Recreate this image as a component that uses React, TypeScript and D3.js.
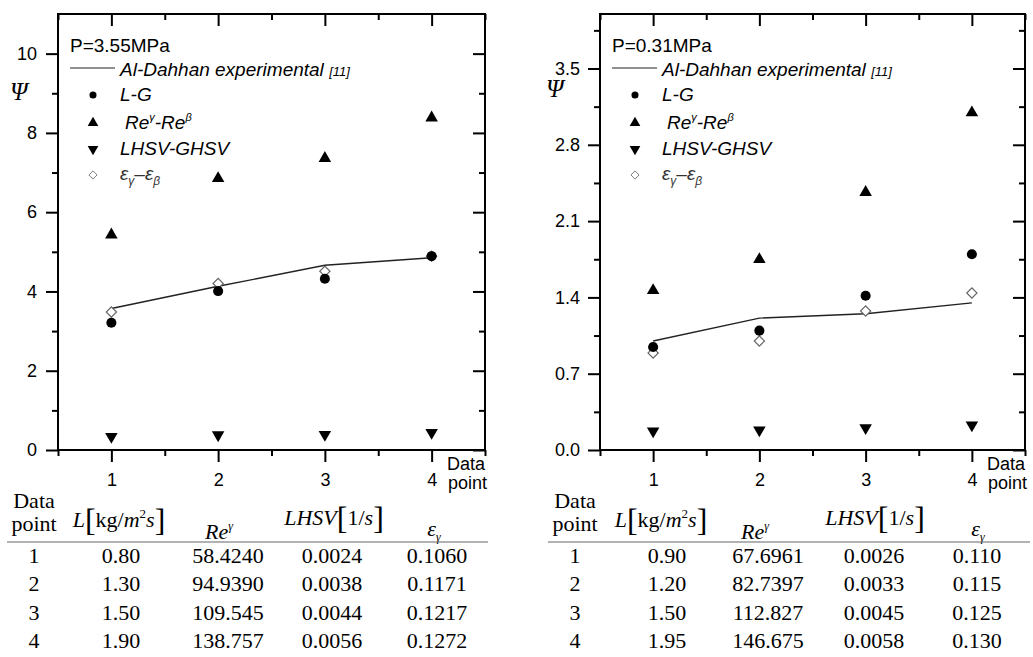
import * as d3 from 'd3'
import { useEffect, useRef } from 'react'

const dataPoints = [1, 2, 3, 4]

// P=3.55MPa panel
const expHigh = [3.57, 4.13, 4.66, 4.85]
const lgHigh = [3.21, 4.01, 4.32, 4.89]
const reHigh = [5.43, 6.85, 7.36, 8.38]
const lhsvHigh = [0.34, 0.38, 0.39, 0.44]
const epsHigh = [3.48, 4.2, 4.51, 4.89]

// P=0.31MPa panel
const expLow = [1.0, 1.21, 1.25, 1.35]
const lgLow = [0.945, 1.095, 1.415, 1.796]
const reLow = [1.464, 1.748, 2.364, 3.095]
const lhsvLow = [0.174, 0.183, 0.204, 0.229]
const epsLow = [0.89, 1.0, 1.275, 1.44]

const yTicksHigh = [0, 2, 4, 6, 8, 10]
const yMinorHigh = [1, 3, 5, 7, 9]
const yTicksLow = [0, 0.7, 1.4, 2.1, 2.8, 3.5]
const yMinorLow = [0.35, 1.05, 1.75, 2.45, 3.15, 3.85]
const xMinor = [0.5, 1.5, 2.5, 3.5, 4.5]

// tables under the plots
const tblLHigh = ['0.80', '1.30', '1.50', '1.90']
const tblReHigh = ['58.4240', '94.9390', '109.545', '138.757']
const tblLhsvHigh = ['0.0024', '0.0038', '0.0044', '0.0056']
const tblEpsHigh = ['0.1060', '0.1171', '0.1217', '0.1272']
const tblLLow = ['0.90', '1.20', '1.50', '1.95']
const tblReLow = ['67.6961', '82.7397', '112.827', '146.675']
const tblLhsvLow = ['0.0026', '0.0033', '0.0045', '0.0058']
const tblEpsLow = ['0.110', '0.115', '0.125', '0.130']

const sans = "'Liberation Sans', Arial, sans-serif"
const serif = "'Liberation Serif', 'Times New Roman', serif"

const circlePath = d3.symbol().type(d3.symbolCircle).size(80)()
const triPath = d3.symbol().type(d3.symbolTriangle).size(68)()
const diamondPath = d3.symbol().type(d3.symbolSquare).size(52)()

const panels = [
  {
    key: 'high', left: 58, right: 485, top: 14, bottom: 450, yMax: 11,
    yTicks: yTicksHigh, yMinor: yMinorHigh, fmt: d3.format('d'), pad: 9,
    pressure: 'P=3.55MPa', psi: [10, 100],
    exp: expHigh, lg: lgHigh, re: reHigh, lhsv: lhsvHigh, eps: epsHigh,
    table: { L: tblLHigh, Re: tblReHigh, LHSV: tblLhsvHigh, eps: tblEpsHigh },
    rule: [7, 488],
    cols: [34, 121, 228, 332, 437],
    heads: [119, 219, 334, 434],
  },
  {
    key: 'low', left: 600, right: 1025, top: 14, bottom: 450, yMax: 4,
    yTicks: yTicksLow, yMinor: yMinorLow, fmt: d3.format('.1f'), pad: 8,
    pressure: 'P=0.31MPa', psi: [546, 97],
    exp: expLow, lg: lgLow, re: reLow, lhsv: lhsvLow, eps: epsLow,
    table: { L: tblLLow, Re: tblReLow, LHSV: tblLhsvLow, eps: tblEpsLow },
    rule: [548, 1030],
    cols: [575, 667, 768, 874, 977],
    heads: [661, 755, 875, 978],
  },
]

const Panel = ({ p }) => {
  const axRef = useRef(null)
  const x = d3.scaleLinear().domain([0.5, 4.5]).range([p.left, p.right])
  const y = d3.scaleLinear().domain([0, p.yMax]).range([p.bottom, p.top])

  useEffect(() => {
    const g = d3.select(axRef.current)
    g.selectAll('*').remove()
    const add = (axis, tx, ty) => {
      const a = g.append('g').attr('transform', `translate(${tx},${ty})`)
      axis(a)
      a.attr('font-family', null).attr('font-size', null)
      a.select('.domain').remove()
      a.selectAll('line').attr('stroke', '#000').attr('stroke-width', 2)
      a.selectAll('text').attr('fill', '#000').style('font-family', sans).style('font-size', '18px')
    }
    const none = () => ''
    add(d3.axisBottom(x).tickValues(dataPoints).tickSize(12).tickPadding(11).tickFormat(d3.format('d')), 0, p.bottom)
    add(d3.axisBottom(x).tickValues(xMinor).tickSize(6).tickFormat(none), 0, p.bottom)
    add(d3.axisTop(x).tickValues(dataPoints).tickSize(-12).tickFormat(none), 0, p.top)
    add(d3.axisTop(x).tickValues(xMinor).tickSize(-6).tickFormat(none), 0, p.top)
    add(d3.axisLeft(y).tickValues(p.yTicks).tickSize(12).tickPadding(p.pad).tickFormat(p.fmt), p.left, 0)
    add(d3.axisLeft(y).tickValues(p.yMinor).tickSize(6).tickFormat(none), p.left, 0)
    add(d3.axisRight(y).tickValues(p.yTicks).tickSize(-12).tickFormat(none), p.right, 0)
    add(d3.axisRight(y).tickValues(p.yMinor).tickSize(-6).tickFormat(none), p.right, 0)
  }, [p])

  const line = d3.line().x((d, i) => x(dataPoints[i])).y((d) => y(d))
  const lx = p.left + 12
  const sx = p.left + 35
  const tx = p.left + 62

  return (
    <g>
      <rect x={p.left} y={p.top} width={p.right - p.left} height={p.bottom - p.top}
        fill='none' stroke='#000' strokeWidth={2} />
      <g ref={axRef} />
      {/* axis titles */}
      <text x={p.right - 38} y={470} fontFamily={sans} fontSize={18}>Data</text>
      <text x={p.right - 37} y={489} fontFamily={sans} fontSize={18}>point</text>
      <text x={p.psi[0]} y={p.psi[1]} fontFamily={serif} fontStyle='italic' fontSize={25}>Ψ</text>

      {/* marks */}
      <path d={line(p.exp)} fill='none' stroke='#222' strokeWidth={1.4} />
      {p.eps.map((v, i) => (
        <path key={'e' + i} d={diamondPath} transform={`translate(${x(dataPoints[i])},${y(v)}) rotate(45)`}
          fill='#fff' stroke='#666' strokeWidth={1.2} />
      ))}
      {p.lg.map((v, i) => (
        <path key={'c' + i} d={circlePath} transform={`translate(${x(dataPoints[i])},${y(v)})`} fill='#000' />
      ))}
      {p.re.map((v, i) => (
        <path key={'t' + i} d={triPath} transform={`translate(${x(dataPoints[i])},${y(v)})`} fill='#000' />
      ))}
      {p.lhsv.map((v, i) => (
        <path key={'d' + i} d={triPath} transform={`translate(${x(dataPoints[i])},${y(v)}) rotate(180)`} fill='#000' />
      ))}

      {/* legend */}
      <g fontFamily={sans} fontSize={19}>
        <text x={lx} y={52}>{p.pressure}</text>
        <line x1={lx} x2={lx + 45} y1={68} y2={68} stroke='#222' strokeWidth={1.2} />
        <text x={tx} y={76} fontStyle='italic'>Al-Dahhan experimental <tspan fontSize={13}>[11]</tspan></text>
        <path d={circlePath} transform={`translate(${sx},95) scale(0.7)`} fill='#000' />
        <text x={tx} y={101} fontStyle='italic'>L-G</text>
        <path d={triPath} transform={`translate(${sx},123) scale(0.85)`} fill='#000' />
        <text x={tx + 5} y={129} fontStyle='italic'>Re<tspan fontSize={11} dy={-8}>γ</tspan><tspan dy={8}>-Re</tspan><tspan fontSize={11} dy={-8}>β</tspan></text>
        <path d={triPath} transform={`translate(${sx},149) rotate(180) scale(0.85)`} fill='#000' />
        <text x={tx} y={155} fontStyle='italic'>LHSV-GHSV</text>
        <path d={diamondPath} transform={`translate(${sx},175) rotate(45) scale(0.8)`} fill='#fff' stroke='#666' strokeWidth={1} />
        <text x={tx} y={180} fontStyle='italic' fill='#333'>ε<tspan fontSize={12} dy={5}>γ</tspan><tspan dy={-5}>–ε</tspan><tspan fontSize={12} dy={5}>β</tspan></text>
      </g>

      {/* table */}
      <g fontFamily={serif} fontSize={22} textAnchor='middle'>
        <text x={p.cols[0]} y={508}>Data</text>
        <text x={p.cols[0]} y={531}>point</text>
        <text x={p.heads[0]} y={527}>
          <tspan fontStyle='italic'>L</tspan>
          <tspan fontSize={32} dy={4}>[</tspan>
          <tspan dy={-4}>kg/</tspan>
          <tspan fontStyle='italic'>m</tspan>
          <tspan fontSize={13} dy={-9}>2</tspan>
          <tspan fontStyle='italic' dy={9}>s</tspan>
          <tspan fontSize={32} dy={4}>]</tspan>
        </text>
        <text x={p.heads[1]} y={539} fontStyle='italic'>Re<tspan fontSize={12} dy={-9}>γ</tspan></text>
        <text x={p.heads[2]} y={525}>
          <tspan fontStyle='italic'>LHSV</tspan>
          <tspan fontSize={32} dy={4}>[</tspan>
          <tspan dy={-4}>1/</tspan>
          <tspan fontStyle='italic'>s</tspan>
          <tspan fontSize={32} dy={4}>]</tspan>
        </text>
        <text x={p.heads[3]} y={536} fontStyle='italic'>ε<tspan fontSize={12} dy={5}>γ</tspan></text>
        <line x1={p.rule[0]} x2={p.rule[1]} y1={542} y2={542} stroke='#666' strokeWidth={1.2} />
        {dataPoints.map((d, i) => {
          const ry = 563 + i * 28.4
          return (
            <g key={'row' + d}>
              <text x={p.cols[0]} y={ry}>{d}</text>
              <text x={p.cols[1]} y={ry}>{p.table.L[i]}</text>
              <text x={p.cols[2]} y={ry}>{p.table.Re[i]}</text>
              <text x={p.cols[3]} y={ry}>{p.table.LHSV[i]}</text>
              <text x={p.cols[4]} y={ry}>{p.table.eps[i]}</text>
            </g>
          )
        })}
      </g>
    </g>
  )
}

export default function App() {
  return (
    <svg width={1033} height={657} style={{ position: 'absolute', left: 0, top: 0, background: '#fff' }}>
      {panels.map((p) => <Panel key={p.key} p={p} />)}
    </svg>
  )
}
